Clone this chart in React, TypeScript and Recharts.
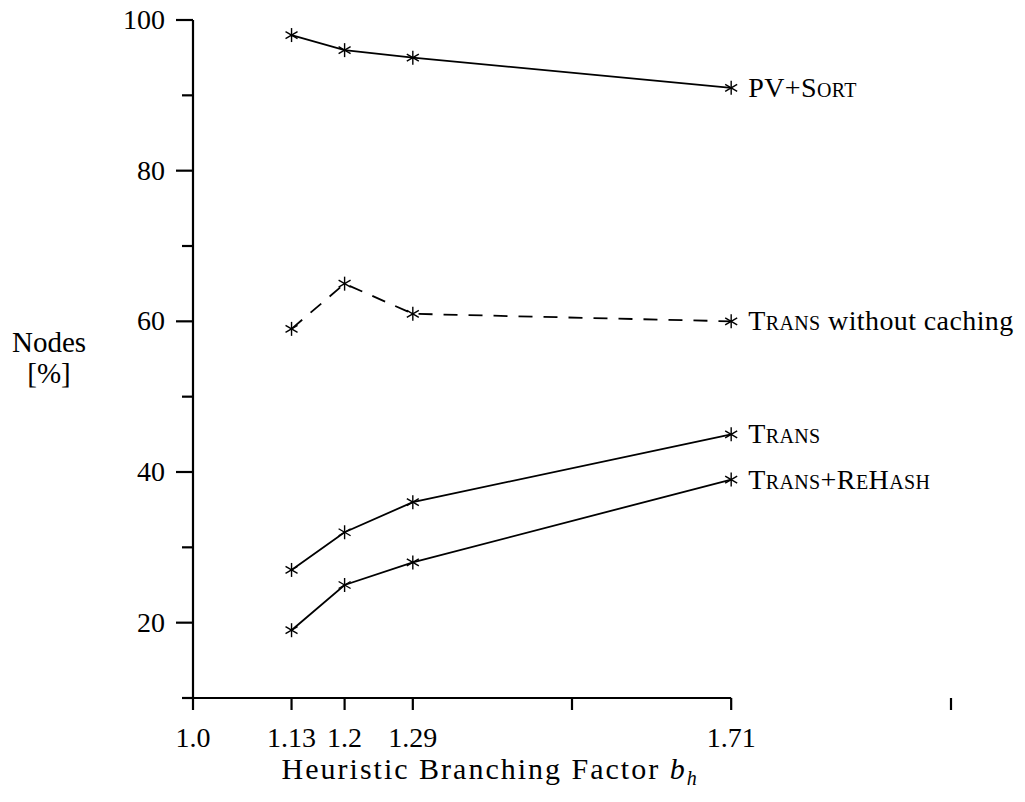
import React from 'react';
import { LineChart, Line, XAxis, YAxis, ReferenceLine } from 'recharts';

// values
const branchingFactors = [1.13, 1.2, 1.29, 1.71];
const pvSort = [98, 96, 95, 91];
const transNoCache = [59, 65, 61, 60];
const trans = [27, 32, 36, 45];
const transReHash = [19, 25, 28, 39];

const xTicks = [1.0, 1.13, 1.2, 1.29, 1.5, 1.71, 2.0];
const xTickLabels = ['1.0', '1.13', '1.2', '1.29', '', '1.71', ''];
const yTicks = [10, 20, 30, 40, 50, 60, 70, 80, 90, 100];
const yTickLabels = ['', '20', '', '40', '', '60', '', '80', '', '100'];

const data = branchingFactors.map((bf, i) => ({
  bf,
  pvSort: pvSort[i],
  transNoCache: transNoCache[i],
  trans: trans[i],
  transReHash: transReHash[i],
}));

const FONT = 'Liberation Serif, DejaVu Serif, Times New Roman, serif';
const SC: React.CSSProperties = { fontVariant: 'small-caps' };

const makeDot = (label: React.ReactNode) => (props: any) => {
  const { cx, cy, index } = props;
  if (cx == null || cy == null) return <g />;
  return (
    <g>
      <g stroke="#000" strokeWidth={1.4}>
        <line x1={cx} y1={cy - 7} x2={cx} y2={cy + 7} />
        <line x1={cx - 6} y1={cy - 3.5} x2={cx + 6} y2={cy + 3.5} />
        <line x1={cx - 6} y1={cy + 3.5} x2={cx + 6} y2={cy - 3.5} />
      </g>
      {index === branchingFactors.length - 1 && (
        <text x={cx + 17} y={cy + 9} fontSize={28} letterSpacing={0.4} fontFamily={FONT} fill="#000">
          {label}
        </text>
      )}
    </g>
  );
};

const XTick = (props: any) => {
  const { x, y, payload } = props;
  const label = xTickLabels[xTicks.indexOf(payload.value)] ?? '';
  return (
    <g>
      <line x1={x} y1={y} x2={x} y2={y + 12} stroke="#000" strokeWidth={2.2} />
      {label && (
        <text x={x} y={y + 49} textAnchor="middle" fontSize={28} fontFamily={FONT} fill="#000">
          {label}
        </text>
      )}
    </g>
  );
};

const YTick = (props: any) => {
  const { x, y, payload } = props;
  const label = yTickLabels[yTicks.indexOf(payload.value)] ?? '';
  const len = label ? 17 : 11;
  return (
    <g>
      <line x1={x - len} y1={y} x2={x} y2={y} stroke="#000" strokeWidth={2.2} />
      {label && (
        <text x={x - 28} y={y + 9} textAnchor="end" fontSize={28} fontFamily={FONT} fill="#000">
          {label}
        </text>
      )}
    </g>
  );
};

const XLabel = (props: any) => {
  const vb = props.viewBox;
  return (
    <text x={vb.x + vb.width * 0.392} y={vb.y + 81} textAnchor="middle" fontSize={30} letterSpacing={2} fontFamily={FONT} fill="#000">
      Heuristic Branching Factor{' '}
      <tspan fontStyle="italic">b</tspan>
      <tspan fontStyle="italic" fontSize={20} dy={6}>h</tspan>
    </text>
  );
};

const YLabel = (props: any) => {
  const vb = props.viewBox;
  return (
    <text textAnchor="middle" fontSize={29} fontFamily={FONT} fill="#000">
      <tspan x={vb.x - 64} y={vb.y + 332}>Nodes</tspan>
      <tspan x={vb.x - 64} y={vb.y + 363}>[%]</tspan>
    </text>
  );
};

export default function App() {
  return (
    <div style={{ margin: '-8px 0 0 -8px', width: 1025, height: 802 }}>
      <LineChart
        width={1025}
        height={802}
        data={data}
        margin={{ top: 20, right: 74, bottom: 44, left: 113 }}
      >
        <XAxis
          type="number"
          dataKey="bf"
          domain={[1, 2]}
          ticks={xTicks}
          interval={0}
          height={60}
          axisLine={false}
          tickLine={false}
          tickSize={0}
          tickMargin={0}
          tick={<XTick />}
          label={{ content: <XLabel /> }}
        />
        <YAxis
          type="number"
          domain={[10, 100]}
          ticks={yTicks}
          interval={0}
          width={80}
          axisLine={{ stroke: '#000', strokeWidth: 2.2 }}
          tickLine={false}
          tickSize={0}
          tickMargin={0}
          tick={<YTick />}
          label={{ content: <YLabel /> }}
        />
        <ReferenceLine
          segment={[{ x: 1, y: 10 }, { x: 1.71, y: 10 }]}
          stroke="#000"
          strokeWidth={2.2}
        />
        <Line
          type="linear"
          dataKey="pvSort"
          stroke="#000"
          strokeWidth={1.8}
          isAnimationActive={false}
          dot={makeDot(<tspan>PV+<tspan style={SC}>Sort</tspan></tspan>)}
        />
        <Line
          type="linear"
          dataKey="transNoCache"
          stroke="#000"
          strokeWidth={1.8}
          strokeDasharray="14 11"
          isAnimationActive={false}
          dot={makeDot(<tspan><tspan style={SC}>Trans</tspan> without caching</tspan>)}
        />
        <Line
          type="linear"
          dataKey="trans"
          stroke="#000"
          strokeWidth={1.8}
          isAnimationActive={false}
          dot={makeDot(<tspan style={SC}>Trans</tspan>)}
        />
        <Line
          type="linear"
          dataKey="transReHash"
          stroke="#000"
          strokeWidth={1.8}
          isAnimationActive={false}
          dot={makeDot(<tspan style={SC}>Trans+ReHash</tspan>)}
        />
      </LineChart>
    </div>
  );
}
